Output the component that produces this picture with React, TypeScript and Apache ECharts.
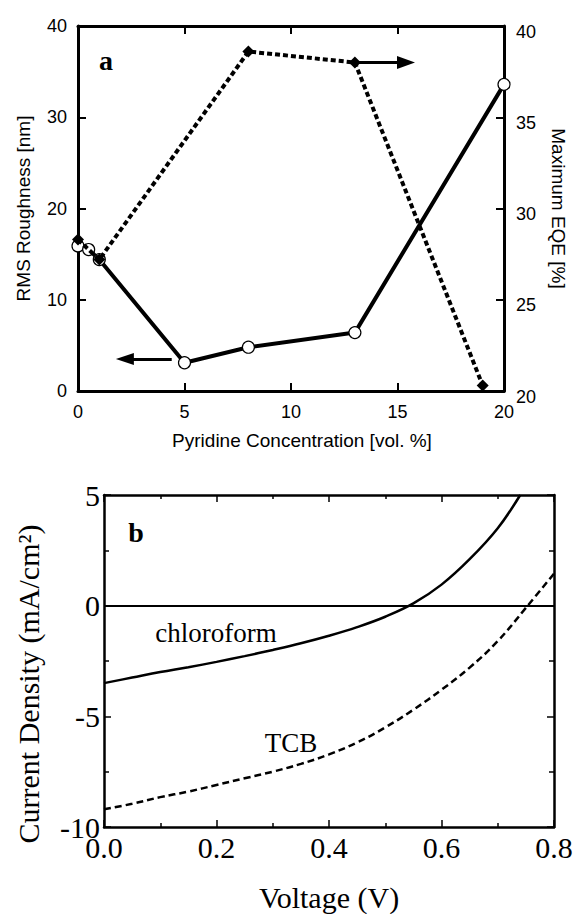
import React, { useEffect, useRef } from "react";
import * as echarts from "echarts";

// Panel a: pyridine concentration (vol. %) vs RMS roughness (nm) and max EQE (%)
const rmsConc = [0, 0.5, 1, 5, 8, 13, 20];
const rmsValues = [15.9, 15.5, 14.4, 3.1, 4.8, 6.4, 33.6];
const eqeConc = [0, 1, 8, 13, 19];
const eqeValues = [28.3, 27.2, 38.6, 38.0, 20.3];

// Panel b: J-V curves
const chloroVoltage = [0, 0.05, 0.1, 0.15, 0.2, 0.25, 0.3, 0.35, 0.4, 0.45, 0.5, 0.55, 0.6, 0.65, 0.7, 0.74];
const chloroCurrent = [-3.5, -3.25, -3.0, -2.78, -2.54, -2.28, -2.0, -1.7, -1.36, -0.97, -0.5, 0.1, 0.95, 2.1, 3.5, 5.0];
const tcbVoltage = [0, 0.05, 0.1, 0.15, 0.2, 0.25, 0.3, 0.35, 0.4, 0.45, 0.5, 0.55, 0.6, 0.65, 0.7, 0.75, 0.8];
const tcbCurrent = [-9.2, -8.95, -8.65, -8.4, -8.1, -7.8, -7.5, -7.15, -6.72, -6.18, -5.5, -4.7, -3.8, -2.8, -1.6, -0.1, 1.45];

const SANS = "Liberation Sans";
const SERIF = "Liberation Serif";

const zip = (xs: number[], ys: number[]) => xs.map((x, i) => [x, ys[i]]);

export default function App() {
  const ref = useRef<HTMLDivElement>(null);

  useEffect(() => {
    document.body.style.margin = "0";
    if (!ref.current) return;
    const chart = echarts.init(ref.current, null, { renderer: "svg" });

    const blackLine = (w: number) => ({ show: true, onZero: false, lineStyle: { color: "#000", width: w } });

    const option: any = {
      animation: false,
      backgroundColor: "#fff",
      grid: [
        { left: 78, top: 26, width: 430, height: 365 },
        { left: 104, top: 495, width: 450, height: 332 },
      ],
      xAxis: [
        {
          gridIndex: 0, type: "value", position: "bottom", min: 0, max: 20, interval: 5,
          axisLine: blackLine(3),
          axisTick: { show: true, inside: true, length: 8, lineStyle: { color: "#000", width: 2 } },
          axisLabel: { fontSize: 18, fontFamily: SANS, color: "#000", margin: 12 },
          splitLine: { show: false },
          name: "Pyridine Concentration [vol. %]", nameLocation: "middle", nameGap: 40,
          nameTextStyle: { fontSize: 19, fontFamily: SANS, color: "#000", padding: [0, 0, 0, 22] },
        },
        {
          gridIndex: 0, type: "value", position: "top", min: 0, max: 20, interval: 5,
          axisLine: blackLine(3),
          axisTick: { show: true, inside: true, length: 8, lineStyle: { color: "#000", width: 2 } },
          axisLabel: { show: false },
          splitLine: { show: false },
        },
        {
          gridIndex: 1, type: "value", position: "bottom", min: 0, max: 0.8, interval: 0.2,
          axisLine: blackLine(2.5),
          axisTick: { show: true, inside: true, length: 7, lineStyle: { color: "#000", width: 1.5 } },
          minorTick: { show: true, splitNumber: 2, length: 4, lineStyle: { color: "#000", width: 1.5 } },
          axisLabel: { fontSize: 30, fontFamily: SERIF, color: "#000", margin: 5, formatter: (v: number) => v.toFixed(1) },
          splitLine: { show: false },
          name: "Voltage (V)", nameLocation: "middle", nameGap: 55,
          nameTextStyle: { fontSize: 30, fontFamily: SERIF, color: "#000" },
        },
        {
          gridIndex: 1, type: "value", position: "top", min: 0, max: 0.8, interval: 0.2,
          axisLine: blackLine(2.5),
          axisTick: { show: true, inside: true, length: 7, lineStyle: { color: "#000", width: 1.5 } },
          minorTick: { show: true, splitNumber: 2, length: 4, lineStyle: { color: "#000", width: 1.5 } },
          axisLabel: { show: false },
          splitLine: { show: false },
        },
      ],
      yAxis: [
        {
          gridIndex: 0, type: "value", position: "left", min: 0, max: 40, interval: 10,
          axisLine: blackLine(3),
          axisTick: { show: true, inside: true, length: 8, lineStyle: { color: "#000", width: 2 } },
          axisLabel: { fontSize: 18, fontFamily: SANS, color: "#000", margin: 11 },
          splitLine: { show: false },
          name: "RMS Roughness [nm]", nameLocation: "middle", nameGap: 45,
          nameTextStyle: { fontSize: 19, fontFamily: SANS, color: "#000" },
        },
        {
          gridIndex: 0, type: "value", position: "right", min: 20, max: 40, interval: 5,
          axisLine: blackLine(3),
          axisTick: { show: true, inside: true, length: 8, lineStyle: { color: "#000", width: 2 } },
          axisLabel: { fontSize: 18, fontFamily: SANS, color: "#000", margin: 12, lineHeight: 11, verticalAlign: "top" },
          splitLine: { show: false },
          name: "Maximum EQE [%]", nameLocation: "middle", nameGap: 45, nameRotate: -90,
          nameTextStyle: { fontSize: 19, fontFamily: SANS, color: "#000" },
        },
        {
          gridIndex: 1, type: "value", position: "left", min: -10, max: 5, interval: 5,
          axisLine: blackLine(2.5),
          axisTick: { show: true, inside: true, length: 7, lineStyle: { color: "#000", width: 1.5 } },
          minorTick: { show: true, splitNumber: 2, length: 5, lineStyle: { color: "#000", width: 1.5 } },
          axisLabel: { fontSize: 30, fontFamily: SERIF, color: "#000", margin: 4 },
          splitLine: { show: false },
          name: "Current Density (mA/cm²)", nameLocation: "middle", nameGap: 61,
          nameTextStyle: { fontSize: 30, fontFamily: SERIF, color: "#000", padding: [0, 46, 0, 0] },
        },
        {
          gridIndex: 1, type: "value", position: "right", min: -10, max: 5, interval: 5,
          axisLine: blackLine(2.5),
          axisTick: { show: true, inside: true, length: 7, lineStyle: { color: "#000", width: 1.5 } },
          minorTick: { show: true, splitNumber: 2, length: 5, lineStyle: { color: "#000", width: 1.5 } },
          axisLabel: { show: false },
          splitLine: { show: false },
        },
      ],
      series: [
        {
          type: "line", xAxisIndex: 0, yAxisIndex: 1, name: "Maximum EQE",
          data: zip(eqeConc, eqeValues),
          lineStyle: { color: "#000", width: 4, type: [5, 3] },
          symbol: "diamond", symbolSize: 12,
          itemStyle: { color: "#000" },
          z: 3,
          markLine: {
            silent: true, animation: false,
            symbol: ["none", "triangle"], symbolSize: [13, 18],
            label: { show: false },
            lineStyle: { color: "#000", width: 3, type: "solid" },
            data: [[{ coord: [13, 38.0] }, { coord: [15.4, 38.0] }]],
          },
        },
        {
          type: "line", xAxisIndex: 0, yAxisIndex: 0, name: "RMS Roughness",
          data: zip(rmsConc, rmsValues),
          lineStyle: { color: "#000", width: 4 },
          symbol: "circle", symbolSize: 12,
          itemStyle: { color: "#fff", borderColor: "#000", borderWidth: 1.2 },
          z: 2,
          markLine: {
            silent: true, animation: false,
            symbol: ["none", "triangle"], symbolSize: [12, 18],
            label: { show: false },
            lineStyle: { color: "#000", width: 3, type: "solid" },
            data: [[{ coord: [4.4, 3.5] }, { coord: [2.2, 3.5] }]],
          },
        },
        {
          type: "line", xAxisIndex: 2, yAxisIndex: 2, name: "chloroform",
          data: zip(chloroVoltage, chloroCurrent),
          smooth: 0.4, showSymbol: false, symbol: "none",
          lineStyle: { color: "#000", width: 2.5 },
          markLine: {
            silent: true, animation: false,
            symbol: ["none", "none"],
            label: { show: false },
            lineStyle: { color: "#000", width: 2, type: "solid" },
            data: [{ yAxis: 0 }],
          },
        },
        {
          type: "line", xAxisIndex: 2, yAxisIndex: 2, name: "TCB",
          data: zip(tcbVoltage, tcbCurrent),
          smooth: 0.4, showSymbol: false, symbol: "none",
          lineStyle: { color: "#000", width: 2.5, type: [7, 4] },
        },
      ],
      graphic: [
        { type: "text", x: 106, y: 60, style: { text: "a", fontSize: 28, fontWeight: "bold", fontFamily: SERIF, fill: "#000", align: "center", verticalAlign: "middle" } },
        { type: "text", x: 136, y: 532, style: { text: "b", fontSize: 28, fontWeight: "bold", fontFamily: SERIF, fill: "#000", align: "center", verticalAlign: "middle" } },
        { type: "text", x: 216, y: 633, style: { text: "chloroform", fontSize: 27, fontFamily: SERIF, fill: "#000", align: "center", verticalAlign: "middle" } },
        { type: "text", x: 291, y: 743, style: { text: "TCB", fontSize: 27, fontFamily: SERIF, fill: "#000", align: "center", verticalAlign: "middle" } },
      ],
    };

    chart.setOption(option);
    return () => chart.dispose();
  }, []);

  return <div ref={ref} style={{ width: 576, height: 914 }} />;
}
